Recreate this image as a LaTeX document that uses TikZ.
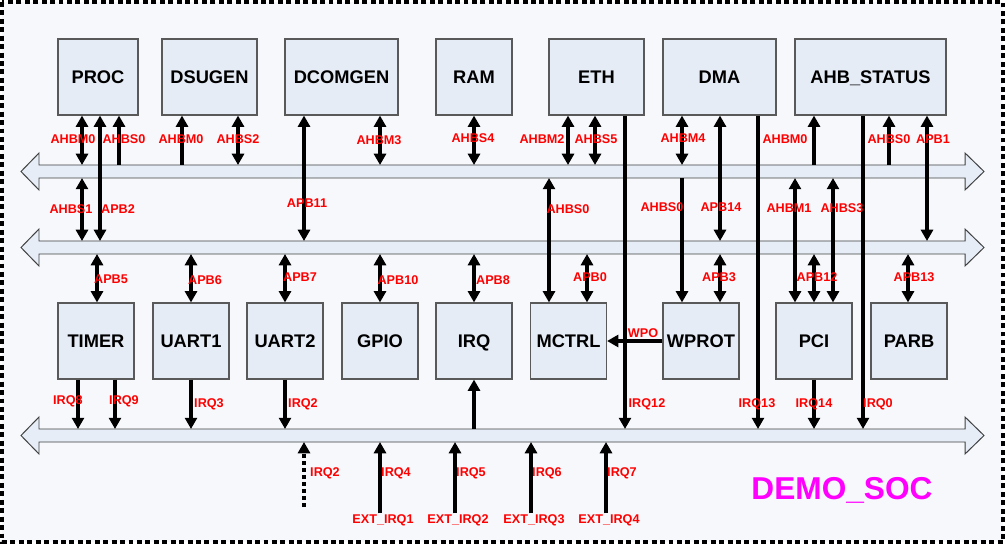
\documentclass[tikz,border=0pt]{standalone}
\usepackage{fontspec}
\setmainfont{Liberation Sans}
\usetikzlibrary{arrows.meta}
\definecolor{bgfill}{HTML}{F6F8FC}
\definecolor{boxfill}{HTML}{E5ECF6}
\definecolor{busfill}{HTML}{E6EDF7}
\definecolor{socpink}{HTML}{FF00FF}
\definecolor{lblred}{HTML}{FF0000}

\begin{document}
\begin{tikzpicture}[x=0.025cm,y=-0.025cm,
  blk/.style={draw=black!65, fill=boxfill, line width=0.8pt, minimum height=1.9cm, inner sep=0pt, text height=9.4pt, text depth=0pt, font=\fontsize{13}{15}\selectfont\bfseries},
  bus/.style={draw=black!75, fill=busfill, line width=0.7pt},
  busbody/.style={minimum width=23.15cm, minimum height=0.325cm, inner sep=0pt, outer sep=0pt},
  lbl/.style={text=lblred, inner sep=0.5pt, font=\fontsize{9}{10}\selectfont\bfseries},
  sig/.style={line width=2.2pt, -{Triangle[length=8pt,width=8.5pt]}},
  bidir/.style={line width=2.2pt, {Triangle[length=8pt,width=8.5pt]}-{Triangle[length=8pt,width=8.5pt]}}]
\useasboundingbox (0,0) rectangle (1005,544);
\fill[bgfill] (2,2) rectangle (1003,542);
\draw[line width=2.2pt, dash pattern=on 3.5pt off 2.5pt] (2,2) rectangle (1003,542);

\foreach \n/\y in {ahb/165, apb/241, irqb/429} {
  \draw[bus] (21,\y+6.5) -- (39,\y-12) -- (39,\y) -- (965,\y) -- (965,\y-12) -- (984,\y+6.5)
    -- (965,\y+25) -- (965,\y+13) -- (39,\y+13) -- (39,\y+25) -- cycle;
  \node[busbody] (\n) at (502,\y+6.5) {};
}

\foreach \n/\t/\x/\w in {proc/PROC/98/2, dsugen/DSUGEN/209.5/2.375, dcomgen/DCOMGEN/341.5/2.825, ram/RAM/474/1.9, eth/ETH/596.5/2.375, dma/DMA/719.5/2.825, ahbst/AHB\_STATUS/870.5/3.775}
  \node[blk, minimum width=\w cm] (\n) at (\x,77) {\t};
\foreach \n/\t/\x in {timer/TIMER/96, uart1/UART1/191, uart2/UART2/285, gpio/GPIO/380, irq/IRQ/474, mctrl/MCTRL/568.5, wprot/WPROT/701, pci/PCI/814, parb/PARB/909}
  \node[blk, minimum width=1.9cm] (\n) at (\x,341) {\t};

\foreach \x/\a/\b/\s in {82/proc.south/ahb.north/bidir, 100/proc.south/apb.north/bidir, 119/ahb.north/proc.south/sig,
  182/ahb.north/dsugen.south/sig, 238/dsugen.south/ahb.north/bidir, 304/dcomgen.south/apb.north/bidir,
  380/dcomgen.south/ahb.north/bidir, 474/ram.south/ahb.north/bidir, 568/eth.south/ahb.north/bidir,
  595/eth.south/ahb.north/bidir, 625/eth.south/irqb.north/sig, 682/dma.south/ahb.north/bidir,
  720/dma.south/apb.north/bidir, 758/dma.south/irqb.north/sig, 814/ahb.north/ahbst.south/sig,
  863/ahbst.south/irqb.north/sig, 889/ahb.north/ahbst.south/sig, 927/ahbst.south/apb.north/bidir,
  82/ahb.south/apb.north/bidir, 549/ahb.south/mctrl.north/bidir, 682/ahb.south/wprot.north/sig,
  795/ahb.south/pci.north/bidir, 833/ahb.south/pci.north/bidir,
  97/apb.south/timer.north/bidir, 191/apb.south/uart1.north/bidir, 285/apb.south/uart2.north/bidir,
  380/apb.south/gpio.north/bidir, 474/apb.south/irq.north/bidir, 587/apb.south/mctrl.north/bidir,
  720/apb.south/wprot.north/bidir, 814/apb.south/pci.north/bidir, 908/apb.south/parb.north/bidir,
  78/timer.south/irqb.north/sig, 115/timer.south/irqb.north/sig, 191/uart1.south/irqb.north/sig,
  285/uart2.south/irqb.north/sig, 814/pci.south/irqb.north/sig, 474/irqb.north/irq.south/sig}
  \draw[\s] (\x,0 |- \a) -- (\x,0 |- \b);
\draw[sig] (wprot) -- (mctrl);

\coordinate (irq2in) at (304,507);
\draw[sig, dash pattern=on 3pt off 2pt] (irq2in) -- (irq2in |- irqb.south);
\foreach \x/\q [count=\i] in {380/4, 455/5, 531/6, 606/7} {
  \node[lbl] (ext\i) at (\x+3,520) {EXT\_IRQ\i};
  \node[lbl] (irqin\i) at (\x+16,473) {IRQ\q};
  \draw[sig] (\x,0 |- ext\i.north) -- (\x,0 |- irqb.south);
}

\foreach \t/\x/\y [count=\i] in {AHBM0/73/139, AHBS0/124/139, AHBM0/181/139, AHBS2/238/139, AHBM3/379/140,
  AHBS4/473/138, AHBM2/542/139, AHBS5/596/139, AHBM4/683/138, AHBM0/785/139, AHBS0/889/139, APB1/933/139,
  AHBS1/71/209, APB2/118/209, APB11/307/203, AHBS0/568/209, AHBS0/662/207, APB14/721/207, AHBM1/789/208,
  AHBS3/842/208, APB5/111/279, APB6/205/280, APB7/300/277, APB10/398/280, APB8/493/280, APB0/590/277,
  APB3/719/277, APB12/817/277, APB13/914/277, WPO/643/333, IRQ8/68/401, IRQ9/124/401, IRQ3/209/404,
  IRQ2/303/404, IRQ12/647/404, IRQ13/757/404, IRQ14/814/404, IRQ0/878/404, IRQ2/325/473}
  \node[lbl] (l\i) at (\x,\y) {\t};

\node[text=socpink, font=\fontsize{22.5}{26}\selectfont\bfseries] (soc) at (842,490) {DEMO\_SOC};
\end{tikzpicture}
\end{document}
